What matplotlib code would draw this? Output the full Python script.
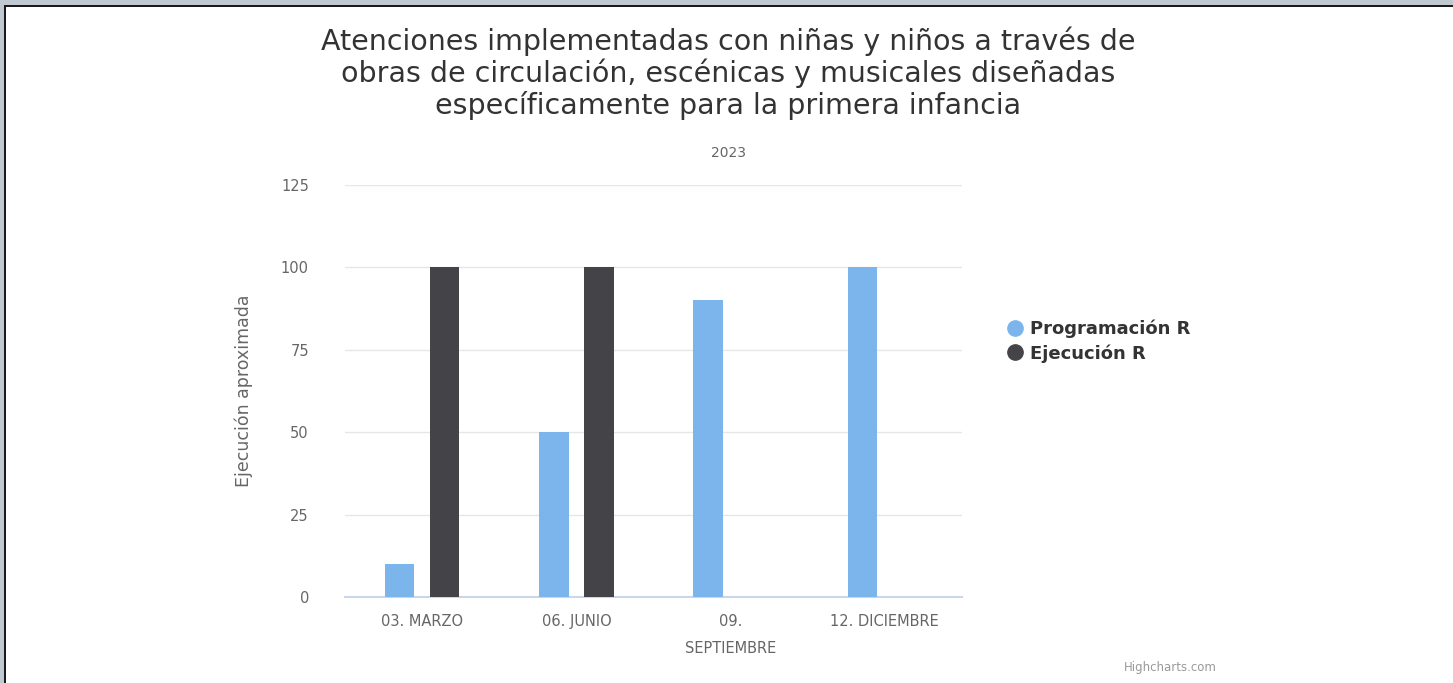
import matplotlib
matplotlib.use("Agg")
import matplotlib.pyplot as plt
from matplotlib.lines import Line2D
from matplotlib.patches import Rectangle
import numpy as np

# Datos del grafico
categorias = ["03. MARZO", "06. JUNIO", "09.\nSEPTIEMBRE", "12. DICIEMBRE"]
programacion = [10, 50, 90, 100]
ejecucion = [100, 100, None, None]
series = ["Programación R", "Ejecución R"]
colores = ["#7cb5ec", "#434348"]

titulo = ("Atenciones implementadas con niñas y niños a través de\n"
          "obras de circulación, escénicas y musicales diseñadas\n"
          "específicamente para la primera infancia")
subtitulo = "2023"
eje_y = "Ejecución aproximada"

W, H = 1453, 683
fig = plt.figure(figsize=(W / 100, H / 100), dpi=100)
fig.patch.set_facecolor("white")
plt.rcParams["font.family"] = ["DejaVu Sans"]

# marco de la pagina (franja gris arriba e izquierda)
fig.patches.append(Rectangle((0, 1 - 5 / H), 1, 5 / H, transform=fig.transFigure,
                             facecolor="#bfc9cf", edgecolor="none"))
fig.patches.append(Rectangle((0, 1 - 7 / H), 1, 2 / H, transform=fig.transFigure,
                             facecolor="#1a1a1a", edgecolor="none"))
fig.patches.append(Rectangle((0, 0), 4 / W, 1, transform=fig.transFigure,
                             facecolor="#bfc9cf", edgecolor="none"))
fig.patches.append(Rectangle((4 / W, 0), 2 / W, 1 - 5 / H, transform=fig.transFigure,
                             facecolor="#1a1a1a", edgecolor="none"))

ax = fig.add_axes([345 / W, (H - 597) / H, (962 - 345) / W, (597 - 185) / H])
x = np.arange(len(categorias))
ancho = 0.19
desp = 0.146
prog = [np.nan if v is None else v for v in programacion]
ejec = [np.nan if v is None else v for v in ejecucion]
ax.bar(x - desp, prog, ancho, color=colores[0], zorder=3)
ax.bar(x + desp, ejec, ancho, color=colores[1], zorder=3)

ax.set_xlim(-0.5, len(categorias) - 0.5)
ax.set_ylim(0, 125)
ax.set_yticks([0, 25, 50, 75, 100, 125])
ax.grid(axis="y", color="#e6e6e6", linewidth=1, zorder=0)
ax.set_axisbelow(True)
for s in ["top", "right", "left"]:
    ax.spines[s].set_visible(False)
ax.spines["bottom"].set_color("#ccd6eb")
ax.spines["bottom"].set_linewidth(1.5)
ax.tick_params(axis="both", length=0, colors="#666666", labelsize=10.5)
ax.tick_params(axis="y", pad=26)
ax.tick_params(axis="x", pad=12)
ax.set_xticks(x)
ax.set_xticklabels(categorias, linespacing=2.0)
ax.set_ylabel(eje_y, color="#666666", fontsize=12.5, labelpad=20)

fig.text(728 / W, 1 - 26 / H, titulo, ha="center", va="top", fontsize=20.5,
         color="#333333", linespacing=1.12)
fig.text(728 / W, 1 - 153 / H, subtitulo, ha="center", va="center",
         fontsize=10, color="#666666")

handles = [Line2D([], [], marker="o", linestyle="", markersize=11,
                  markerfacecolor=c, markeredgecolor=c) for c in colores]
fig.legend(handles, series, loc="center left", bbox_to_anchor=(988 / W, 1 - 341 / H),
           frameon=False, prop={"weight": "bold", "size": 13}, labelcolor="#333333",
           handletextpad=0.2, labelspacing=0.35, handlelength=1.2)

fig.text(1217 / W, 1 - 667 / H, "Highcharts.com", ha="right", va="center",
         fontsize=8.5, color="#999999")

fig.savefig("out.png", dpi=100)
